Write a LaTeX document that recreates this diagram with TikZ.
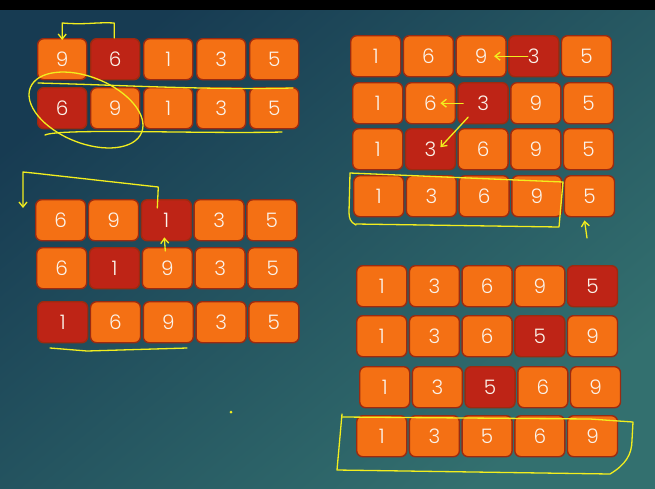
\documentclass[tikz,border=0pt]{standalone}
\usepackage{fontspec}
\setmainfont{Poppins}[UprightFont=* Light]
\usetikzlibrary{arrows.meta}
\definecolor{cellor}{HTML}{F47014}
\definecolor{celldk}{HTML}{BE2416}
\definecolor{cellbd}{HTML}{9C2A10}
\definecolor{bgA}{HTML}{173B52}
\definecolor{bgB}{HTML}{33706F}
\definecolor{yel}{HTML}{F2EE1E}
\definecolor{txt}{HTML}{FBF3EA}
\tikzset{
  cell/.style={draw=cellbd, line width=1.4pt, fill=cellor, rounded corners=6pt,
    minimum width=#1, minimum height=41pt, inner sep=0pt, anchor=north west,
    text=txt, font=\fontsize{20}{20}\selectfont},
  cell/.default=49pt,
  darkcell/.style={cell=#1, fill=celldk},
  darkcell/.default=49pt,
  ann/.style={draw=yel, line width=1.3pt, line cap=round, line join=round},
  annarrow/.style={ann, -{Straight Barb[length=5pt,width=8pt]}}
}
% #1 name prefix, #2 x of first box, #3 y top, #4 pitch, #5 width, #6 values, #7 dark index
\newcommand\cellrow[7]{%
  \foreach \v [count=\i] in {#6} {%
    \ifnum\i=#7 \def\cst{darkcell}\else\def\cst{cell}\fi
    \pgfmathsetmacro\xx{#2+(\i-1)*#4}%
    \node[\cst=#5pt] (#1\i) at (\xx,#3) {\v};
  }%
}
\begin{document}
\begin{tikzpicture}[x=1pt,y=-1pt]
\useasboundingbox (0,0) rectangle (655,488);
\shade[top color=bgA, bottom color=bgB, shading angle=40] (0,0) rectangle (655,488);
\fill[black] (0,0) rectangle (655,10);

% group 1
\cellrow{ga}{37}{38}{53}{49}{9,6,1,3,5}{2}
\cellrow{gb}{37}{87}{53}{49}{6,9,1,3,5}{1}
% group 2
\cellrow{ha}{350}{35}{52.7}{50}{1,6,9,3,5}{4}
\cellrow{hb}{352}{82}{52.7}{50}{1,6,3,9,5}{3}
\cellrow{hc}{352}{128}{52.7}{50}{1,3,6,9,5}{2}
\cellrow{hd}{353}{175}{52.7}{50}{1,3,6,9,5}{0}
% group 3
\cellrow{ka}{35}{199}{52.8}{50}{6,9,1,3,5}{3}
\cellrow{kb}{36}{247}{52.8}{50}{6,1,9,3,5}{2}
\cellrow{kc}{37}{301}{52.8}{50}{1,6,9,3,5}{1}
% group 4
\cellrow{ma}{356}{265}{52.7}{50}{1,3,6,9,5}{5}
\cellrow{mb}{356}{315}{52.7}{50}{1,3,6,5,9}{4}
\cellrow{mc}{359}{366}{52.7}{50}{1,3,5,6,9}{3}
\cellrow{md}{356}{415}{52.7}{50}{1,3,5,6,9}{0}

% annotations group 1
\draw[annarrow] ([xshift=-1pt]ga2.north) -- ++(0,-15) .. controls ++(-20,-1) and ++(25,2) .. ++(-52,0) -- ([yshift=-2pt]ga1.north);
\draw[ann] (86,110) ellipse [x radius=60, y radius=33, rotate=-22];
\draw[ann] (38,83) .. controls (120,85) and (200,90) .. (293,88);
\draw[ann] (45,135) .. controls (60,128) and (200,134) .. (282,132);

% annotations group 2
\draw[annarrow] ([xshift=-6pt]ha4.center) -- ([xshift=13pt]ha3.center);
\draw[annarrow] ([xshift=-20pt]hb3.center) -- ([xshift=10pt]hb2.center);
\draw[annarrow] ([xshift=-15pt,yshift=-14pt]hb3.center) -- ([xshift=10pt,yshift=2pt]hc2.center);
\draw[ann] (356,225) .. controls (350,222) and (349,218) .. (349,212) -- (350,173) -- (563,182) -- (559,227) -- (356,224);
\coordinate (hfoot) at (587,238);
\draw[annarrow] (hfoot) -- ([xshift=-5pt,yshift=-3pt]hd5.south);

% annotations group 3
\draw[annarrow] ([xshift=-9pt,yshift=-9pt]ka3.north) -- ++(1,-21) -- (33,173) -- (23,172) -- (23,208);
\draw[annarrow] ([xshift=-2pt,yshift=-4pt]kb3.north) -- ([xshift=-2pt,yshift=4pt]ka3.south);
\draw[ann] (50,348) -- (87,351) -- (187,348);

% annotations group 4
\draw[ann] (342,414) -- (337,470) -- (610,474) .. controls (625,465) and (632,455) .. (632,440) -- (633,422) -- (590,419) -- (343,417);
\fill[yel] (231,412) circle (1.5);
\end{tikzpicture}
\end{document}
